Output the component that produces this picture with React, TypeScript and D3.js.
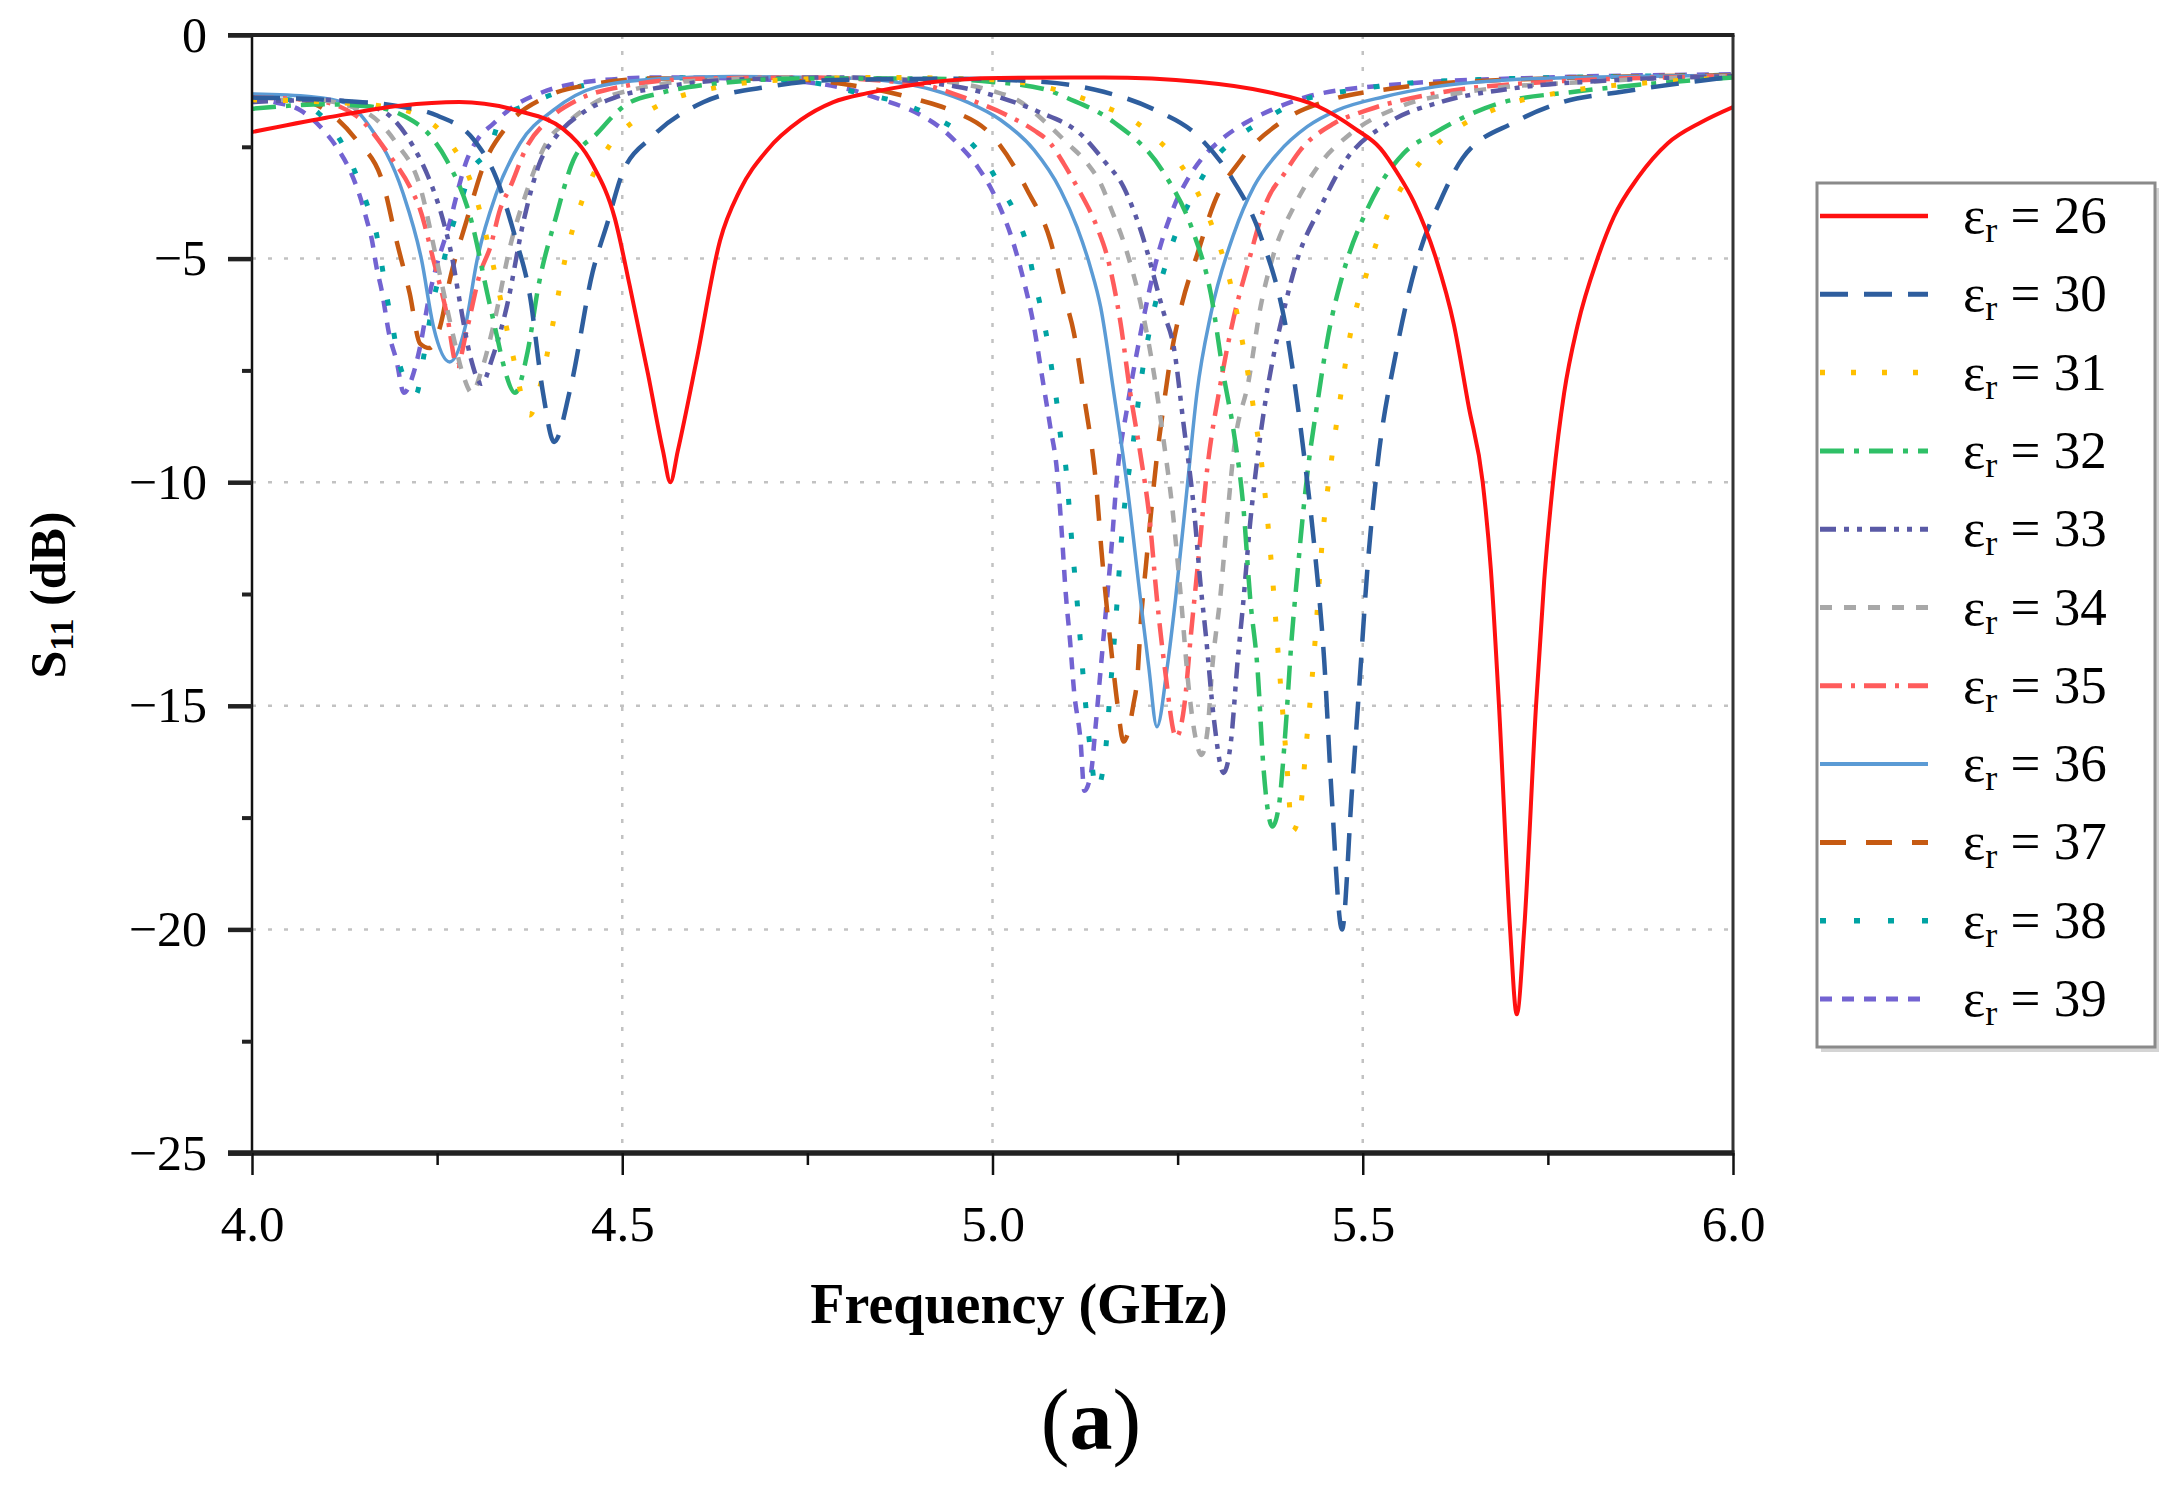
import * as React from "react";
import * as d3 from "d3";

type Pt = [number, number];

// relative permittivity of each curve (legend order)
const permittivities = [26, 30, 31, 32, 33, 34, 35, 36, 37, 38, 39];

// S11 (dB) vs frequency (GHz)
const s11Er26: Pt[] = [
  [4.0, -2.17], [4.1, -1.85], [4.2, -1.58], [4.28, -1.5], [4.36, -1.7], [4.42, -2.1], [4.46, -2.9],
  [4.49, -4.1], [4.51, -5.6], [4.535, -7.6], [4.555, -9.3], [4.565, -10.0], [4.575, -9.3], [4.6, -7.3],
  [4.632, -4.6], [4.659, -3.47], [4.696, -2.57], [4.741, -1.9], [4.785, -1.5], [4.831, -1.3],
  [4.876, -1.16], [4.92, -1.05], [5.01, -0.96], [5.15, -0.95], [5.28, -1.05], [5.37, -1.27],
  [5.44, -1.6], [5.49, -2.1], [5.524, -2.54], [5.547, -3.09], [5.569, -3.73], [5.599, -5.0],
  [5.623, -6.47], [5.643, -8.3], [5.662, -10.0], [5.673, -11.95], [5.684, -15.0], [5.699, -20.0],
  [5.708, -21.9], [5.718, -20.0], [5.734, -15.0], [5.745, -12.2], [5.757, -10.0], [5.772, -8.0],
  [5.79, -6.5], [5.817, -5.0], [5.839, -4.07], [5.872, -3.18], [5.912, -2.42], [5.957, -1.95],
  [6.0, -1.61],
];

const s11Er30: Pt[] = [
  [4.0, -1.4], [4.1, -1.45], [4.2, -1.6], [4.25, -1.8], [4.3, -2.35], [4.33, -3.2], [4.355, -4.5],
  [4.375, -5.8], [4.393, -8.0], [4.408, -9.1], [4.43, -7.9], [4.46, -5.3], [4.48, -4.2], [4.5, -3.1],
  [4.54, -2.28], [4.61, -1.5], [4.7, -1.15], [4.8, -1.0], [4.95, -0.98], [5.07, -1.05], [5.15, -1.27],
  [5.22, -1.68], [5.28, -2.3], [5.325, -3.25], [5.36, -4.4], [5.4, -6.9], [5.42, -9.3], [5.435, -11.5],
  [5.448, -14.0], [5.458, -17.0], [5.472, -20.0], [5.485, -17.0], [5.496, -14.4], [5.506, -12.0],
  [5.52, -9.6], [5.545, -7.1], [5.576, -4.9], [5.605, -3.7], [5.635, -2.75], [5.705, -1.95],
  [5.77, -1.5], [5.85, -1.27], [6.0, -0.93],
];

const s11Er31: Pt[] = [
  [4.0, -1.45], [4.1, -1.5], [4.18, -1.6], [4.225, -1.8], [4.26, -2.25], [4.3, -3.5], [4.325, -5.1],
  [4.35, -7.0], [4.375, -8.5], [4.39, -7.8], [4.407, -6.4], [4.423, -5.0], [4.447, -3.65], [4.466, -2.95],
  [4.486, -2.4], [4.518, -1.9], [4.558, -1.5], [4.62, -1.2], [4.7, -1.02], [4.85, -0.95], [5.0, -1.0],
  [5.08, -1.2], [5.146, -1.57], [5.189, -1.9], [5.22, -2.3], [5.254, -2.9], [5.295, -4.2], [5.322, -5.6],
  [5.339, -7.0], [5.353, -8.4], [5.365, -9.8], [5.377, -11.9], [5.387, -14.1], [5.397, -16.2],
  [5.405, -17.8], [5.415, -17.4], [5.423, -16.0], [5.434, -13.9], [5.447, -11.0], [5.457, -9.6],
  [5.469, -8.2], [5.482, -6.8], [5.504, -5.4], [5.534, -4.0], [5.578, -2.84], [5.61, -2.3],
  [5.68, -1.65], [5.78, -1.25], [5.9, -1.05], [6.0, -0.95],
];

const s11Er32: Pt[] = [
  [4.0, -1.65], [4.1, -1.55], [4.16, -1.6], [4.204, -1.8], [4.243, -2.3], [4.263, -2.8], [4.297, -4.2],
  [4.318, -5.8], [4.331, -6.75], [4.34, -7.4], [4.355, -8.0], [4.372, -7.1], [4.387, -5.6], [4.41, -4.1],
  [4.434, -2.8], [4.466, -2.2], [4.504, -1.57], [4.551, -1.3], [4.62, -1.1], [4.75, -0.97], [4.9, -0.97],
  [5.0, -1.05], [5.074, -1.23], [5.101, -1.41], [5.164, -1.95], [5.232, -3.1], [5.27, -4.36],
  [5.295, -5.8], [5.312, -7.6], [5.326, -8.9], [5.339, -10.6], [5.348, -12.6], [5.358, -14.2],
  [5.366, -16.4], [5.378, -17.7], [5.387, -17.2], [5.395, -15.7], [5.404, -13.5], [5.412, -12.0],
  [5.42, -10.6], [5.426, -9.7], [5.439, -8.2], [5.453, -6.75], [5.474, -5.3], [5.506, -3.9],
  [5.555, -2.65], [5.596, -2.2], [5.684, -1.53], [5.786, -1.27], [5.91, -1.06], [6.0, -0.95],
];

const s11Er33: Pt[] = [
  [4.0, -1.5], [4.1, -1.45], [4.17, -1.65], [4.218, -2.5], [4.238, -3.17], [4.258, -4.14], [4.27, -4.96],
  [4.281, -6.0], [4.295, -7.2], [4.31, -7.8], [4.325, -7.2], [4.344, -6.08], [4.367, -4.14], [4.39, -2.8],
  [4.407, -2.35], [4.45, -1.7], [4.49, -1.4], [4.56, -1.15], [4.65, -1.0], [4.8, -0.95], [4.95, -1.15],
  [5.02, -1.45], [5.06, -1.7], [5.123, -2.28], [5.15, -2.8], [5.177, -3.4], [5.2, -4.36], [5.231, -6.2],
  [5.245, -7.0], [5.258, -8.7], [5.272, -10.6], [5.281, -12.3], [5.288, -13.4], [5.299, -15.3],
  [5.312, -16.5], [5.322, -15.8], [5.331, -14.0], [5.338, -12.8], [5.348, -10.9], [5.356, -9.7],
  [5.378, -7.3], [5.39, -6.4], [5.412, -5.0], [5.443, -3.85], [5.473, -2.9], [5.534, -1.97],
  [5.605, -1.5], [5.7, -1.2], [5.85, -1.0], [6.0, -0.92],
];

const s11Er34: Pt[] = [
  [4.0, -1.45], [4.08, -1.45], [4.15, -1.7], [4.195, -2.42], [4.227, -3.39], [4.249, -5.0], [4.27, -6.6],
  [4.285, -7.6], [4.297, -8.0], [4.31, -7.5], [4.326, -6.5], [4.349, -4.7], [4.371, -3.5], [4.398, -2.4],
  [4.43, -1.9], [4.461, -1.53], [4.52, -1.2], [4.6, -1.02], [4.75, -0.95], [4.9, -1.0], [5.0, -1.25],
  [5.033, -1.45], [5.078, -2.05], [5.101, -2.42], [5.128, -2.87], [5.146, -3.32], [5.159, -3.84],
  [5.182, -4.88], [5.2, -6.0], [5.218, -7.57], [5.231, -9.06], [5.243, -10.6], [5.254, -12.5],
  [5.265, -14.6], [5.274, -15.7], [5.282, -16.1], [5.29, -15.6], [5.297, -14.1], [5.308, -12.5],
  [5.317, -10.8], [5.326, -9.28], [5.346, -7.72], [5.362, -6.08], [5.38, -4.88], [5.407, -3.84],
  [5.439, -2.95], [5.484, -2.2], [5.551, -1.6], [5.65, -1.25], [5.8, -1.05], [6.0, -0.92],
];

const s11Er35: Pt[] = [
  [4.0, -1.4], [4.08, -1.45], [4.14, -1.8], [4.186, -2.7], [4.213, -3.39], [4.227, -3.9], [4.245, -5.03],
  [4.263, -6.23], [4.277, -7.4], [4.29, -6.6], [4.308, -5.33], [4.322, -4.73], [4.335, -3.9],
  [4.349, -3.39], [4.371, -2.5], [4.4, -1.9], [4.44, -1.45], [4.5, -1.15], [4.6, -0.98], [4.75, -0.95],
  [4.9, -1.1], [4.97, -1.45], [5.024, -1.83], [5.056, -2.13], [5.078, -2.42], [5.096, -2.87],
  [5.114, -3.39], [5.141, -4.29], [5.155, -4.96], [5.173, -6.45], [5.186, -8.0], [5.2, -9.4],
  [5.212, -10.8], [5.222, -12.6], [5.233, -14.2], [5.248, -15.7], [5.259, -15.0], [5.268, -13.4],
  [5.277, -11.9], [5.29, -9.7], [5.308, -7.79], [5.326, -6.3], [5.344, -5.18], [5.371, -3.69],
  [5.394, -3.1], [5.416, -2.57], [5.461, -1.98], [5.506, -1.68], [5.6, -1.3], [5.75, -1.05], [6.0, -0.92],
];

const s11Er36: Pt[] = [
  [4.0, -1.32], [4.08, -1.38], [4.128, -1.53], [4.159, -2.05], [4.204, -3.54], [4.229, -5.03],
  [4.245, -6.52], [4.267, -7.31], [4.288, -6.52], [4.304, -5.03], [4.33, -3.54], [4.362, -2.42],
  [4.407, -1.68], [4.466, -1.16], [4.55, -0.98], [4.65, -0.93], [4.8, -0.96], [4.876, -1.07],
  [4.92, -1.23], [4.966, -1.5], [5.011, -1.9], [5.056, -2.57], [5.092, -3.47], [5.114, -4.29],
  [5.132, -5.18], [5.146, -6.08], [5.164, -8.02], [5.182, -10.1], [5.2, -12.64], [5.211, -14.13],
  [5.222, -15.47], [5.236, -14.13], [5.247, -12.64], [5.263, -10.1], [5.276, -8.02], [5.295, -6.23],
  [5.326, -4.44], [5.353, -3.39], [5.385, -2.65], [5.425, -2.05], [5.466, -1.68], [5.529, -1.38],
  [5.597, -1.16], [5.7, -1.0], [5.85, -0.93], [6.0, -0.9],
];

const s11Er37: Pt[] = [
  [4.0, -1.36], [4.05, -1.4], [4.083, -1.53], [4.141, -2.35], [4.177, -3.32], [4.195, -4.59],
  [4.213, -5.78], [4.227, -6.9], [4.24, -7.0], [4.254, -6.52], [4.268, -5.41], [4.29, -4.14],
  [4.312, -2.95], [4.344, -2.05], [4.398, -1.38], [4.46, -1.1], [4.55, -0.97], [4.7, -0.97],
  [4.82, -1.15], [4.9, -1.45], [4.943, -1.68], [5.001, -2.28], [5.047, -3.47], [5.078, -4.59],
  [5.096, -5.78], [5.11, -6.67], [5.123, -8.02], [5.141, -10.25], [5.147, -11.5], [5.155, -12.9],
  [5.162, -14.0], [5.169, -15.0], [5.177, -15.8], [5.19, -15.0], [5.196, -14.3], [5.2, -13.2],
  [5.207, -11.9], [5.214, -10.7], [5.222, -9.43], [5.231, -8.3], [5.24, -7.27], [5.256, -6.0],
  [5.277, -4.88], [5.299, -3.77], [5.335, -2.8], [5.394, -1.9], [5.457, -1.45], [5.542, -1.19],
  [5.7, -1.0], [6.0, -0.9],
];

const s11Er38: Pt[] = [
  [4.0, -1.4], [4.05, -1.45], [4.09, -1.75], [4.119, -2.35], [4.155, -3.77], [4.168, -4.44],
  [4.175, -5.11], [4.183, -5.93], [4.19, -6.52], [4.198, -7.27], [4.21, -7.8], [4.222, -8.02],
  [4.231, -7.27], [4.245, -5.93], [4.258, -5.11], [4.268, -4.44], [4.281, -3.77], [4.295, -3.09],
  [4.322, -2.5], [4.335, -1.9], [4.376, -1.53], [4.43, -1.2], [4.5, -1.02], [4.62, -0.95],
  [4.75, -1.05], [4.82, -1.3], [4.876, -1.52], [4.92, -1.83], [4.957, -2.2], [4.988, -2.75],
  [5.011, -3.4], [5.033, -4.07], [5.047, -4.74], [5.056, -5.44], [5.065, -6.08], [5.074, -6.82],
  [5.081, -7.57], [5.087, -8.24], [5.092, -8.99], [5.099, -9.66], [5.106, -11.1], [5.117, -13.2],
  [5.124, -14.65], [5.133, -16.1], [5.14, -16.9], [5.152, -16.1], [5.159, -14.65], [5.166, -13.2],
  [5.175, -11.1], [5.191, -8.99], [5.202, -7.57], [5.218, -6.15], [5.24, -4.81], [5.274, -3.47],
  [5.295, -2.87], [5.326, -2.35], [5.367, -1.9], [5.407, -1.53], [5.5, -1.2], [5.65, -1.0], [6.0, -0.9],
];

const s11Er39: Pt[] = [
  [4.0, -1.4], [4.03, -1.5], [4.065, -1.68], [4.096, -2.12], [4.114, -2.5], [4.132, -3.02],
  [4.146, -3.62], [4.155, -4.14], [4.162, -4.59], [4.168, -5.18], [4.175, -5.7], [4.186, -6.75],
  [4.195, -7.27], [4.205, -8.0], [4.218, -7.57], [4.227, -6.97], [4.24, -5.78], [4.249, -5.18],
  [4.268, -4.14], [4.277, -3.54], [4.29, -2.8], [4.304, -2.35], [4.326, -1.98], [4.353, -1.6],
  [4.389, -1.3], [4.45, -1.05], [4.55, -0.95], [4.7, -1.0], [4.81, -1.23], [4.84, -1.39],
  [4.903, -1.79], [4.934, -2.13], [4.957, -2.5], [4.98, -2.95], [4.997, -3.4], [5.01, -3.85],
  [5.024, -4.44], [5.042, -5.48], [5.056, -6.52], [5.067, -7.64], [5.078, -8.76], [5.087, -9.73],
  [5.093, -11.0], [5.099, -12.5], [5.105, -13.6], [5.11, -14.65], [5.119, -15.8], [5.124, -16.9],
  [5.133, -16.5], [5.139, -15.5], [5.146, -14.2], [5.153, -12.9], [5.16, -11.6], [5.168, -9.9],
  [5.182, -8.32], [5.2, -6.67], [5.218, -5.26], [5.245, -3.84], [5.263, -3.24], [5.281, -2.8],
  [5.308, -2.35], [5.34, -1.98], [5.376, -1.68], [5.425, -1.38], [5.55, -1.1], [5.75, -0.95], [6.0, -0.88],
];

const seriesValues: Pt[][] = [
  s11Er26, s11Er30, s11Er31, s11Er32, s11Er33, s11Er34, s11Er35, s11Er36, s11Er37, s11Er38, s11Er39,
];

const xTicks = [4.0, 4.5, 5.0, 5.5, 6.0];
const xMinorTicks = [4.25, 4.75, 5.25, 5.75];
const yTicks = [0, -5, -10, -15, -20, -25];
const yMinorTicks = [-2.5, -7.5, -12.5, -17.5, -22.5];
const gridX = [4.5, 5.0, 5.5];
const gridY = [-5, -10, -15, -20];

// line styles, same order as permittivities
const lineColors = [
  "#ff1010", "#2e5e9e", "#ffc000", "#2fc067", "#5a5aa6", "#a8a8a8",
  "#ff5c5c", "#5b9bd5", "#c65a12", "#00a3a3", "#7363d2",
];
const lineDashes = [
  null, "28,16", "5,26", "24,10,5,10", "16,8,5,8,5,8", "12,12",
  "22,9,4,9", null, "26,20", "6,28", "12,10",
];
const lineWidths = [4, 4.5, 5, 4.5, 4.5, 4.5, 4.5, 3.5, 4.5, 5, 4.5];

const FONT = '"Liberation Serif", "Times New Roman", serif';

export default function App() {
  const svgRef = React.useRef<SVGSVGElement>(null);

  React.useEffect(() => {
    const svgElement = svgRef.current;
    if (!svgElement) return;
    const svg = d3.select(svgElement);
    svg.selectAll("*").remove();

    const left = 252, right = 1733, top = 35, bottom = 1153;
    const x = d3.scaleLinear().domain([4, 6]).range([left, right]);
    const y = d3.scaleLinear().domain([-25, 0]).range([bottom, top]);

    svg.append("rect").attr("width", 2184).attr("height", 1486).attr("fill", "#fff");

    // dotted grid
    const grid = svg.append("g").attr("stroke", "#c2c2c2").attr("stroke-width", 2.5)
      .attr("stroke-dasharray", "4,12");
    grid.selectAll(".gx").data(gridX).join("line").attr("class", "gx")
      .attr("x1", d => x(d)).attr("x2", d => x(d)).attr("y1", top).attr("y2", bottom);
    grid.selectAll(".gy").data(gridY).join("line").attr("class", "gy")
      .attr("x1", left).attr("x2", right).attr("y1", d => y(d)).attr("y2", d => y(d));

    // curves
    svg.append("defs").append("clipPath").attr("id", "plot-clip")
      .append("rect").attr("x", left).attr("y", top).attr("width", right - left).attr("height", bottom - top);

    const line = d3.line<Pt>().x(d => x(d[0])).y(d => y(d[1])).curve(d3.curveMonotoneX);
    const order = d3.range(seriesValues.length).reverse();
    svg.append("g").attr("clip-path", "url(#plot-clip)")
      .selectAll("path").data(order).join("path")
      .attr("d", i => line(seriesValues[i]))
      .attr("fill", "none")
      .attr("stroke", i => lineColors[i])
      .attr("stroke-width", i => lineWidths[i])
      .attr("stroke-dasharray", i => lineDashes[i])
      .attr("stroke-linejoin", "round");

    // frame
    const frame = svg.append("g");
    frame.append("line").attr("x1", left).attr("x2", left).attr("y1", top).attr("y2", bottom)
      .attr("stroke", "#111").attr("stroke-width", 2.5);
    frame.append("line").attr("x1", right).attr("x2", right).attr("y1", top).attr("y2", bottom)
      .attr("stroke", "#333").attr("stroke-width", 3);
    frame.append("line").attr("x1", left - 24).attr("x2", right + 1.5).attr("y1", top).attr("y2", top)
      .attr("stroke", "#222").attr("stroke-width", 4);
    frame.append("line").attr("x1", left - 24).attr("x2", right + 1.5).attr("y1", bottom).attr("y2", bottom)
      .attr("stroke", "#222").attr("stroke-width", 5.5);

    // x axis
    const xAxisG = svg.append("g").attr("transform", `translate(0,${bottom})`)
      .call(d3.axisBottom(x).tickValues(xTicks).tickSize(22).tickPadding(30).tickFormat(d3.format(".1f")));
    xAxisG.select(".domain").remove();
    xAxisG.selectAll(".tick line").attr("stroke", "#111").attr("stroke-width", 2.5);
    xAxisG.selectAll("text").attr("font-family", FONT).attr("font-size", 51).attr("fill", "#000");

    const xMinorG = svg.append("g").attr("transform", `translate(0,${bottom})`)
      .call(d3.axisBottom(x).tickValues(xMinorTicks).tickSize(12).tickFormat(() => ""));
    xMinorG.select(".domain").remove();
    xMinorG.selectAll(".tick line").attr("stroke", "#111").attr("stroke-width", 2.5);

    // y axis
    const yAxisG = svg.append("g").attr("transform", `translate(${left},0)`)
      .call(d3.axisLeft(y).tickValues(yTicks).tickSize(24).tickPadding(21).tickFormat(d3.format("d")));
    yAxisG.select(".domain").remove();
    yAxisG.selectAll(".tick line").attr("stroke", "#222").attr("stroke-width", 4.5);
    yAxisG.selectAll("text").attr("font-family", FONT).attr("font-size", 50).attr("fill", "#000");

    const yMinorG = svg.append("g").attr("transform", `translate(${left},0)`)
      .call(d3.axisLeft(y).tickValues(yMinorTicks).tickSize(10).tickFormat(() => ""));
    yMinorG.select(".domain").remove();
    yMinorG.selectAll(".tick line").attr("stroke", "#222").attr("stroke-width", 4);

    // axis titles
    svg.append("text").attr("x", 1019).attr("y", 1323).attr("text-anchor", "middle")
      .attr("font-family", FONT).attr("font-size", 56).attr("font-weight", "bold")
      .text("Frequency (GHz)");

    const yTitle = svg.append("text").attr("transform", "translate(65,595) rotate(-90)")
      .attr("text-anchor", "middle").attr("font-family", FONT).attr("font-size", 50)
      .attr("font-weight", "bold");
    yTitle.append("tspan").text("S");
    yTitle.append("tspan").attr("font-size", 34).attr("dy", 8).text("11");
    yTitle.append("tspan").attr("dy", -8).text(" (dB)");

    // legend
    const lgX = 1817, lgY = 183, lgW = 338, lgH = 864;
    const legend = svg.append("g");
    legend.append("rect").attr("x", lgX + 4).attr("y", lgY + 5).attr("width", lgW).attr("height", lgH)
      .attr("fill", "#d4d4d4");
    legend.append("rect").attr("x", lgX).attr("y", lgY).attr("width", lgW).attr("height", lgH)
      .attr("fill", "#fff").attr("stroke", "#8a8a8a").attr("stroke-width", 3);

    const rowY = d3.scaleLinear().domain([0, permittivities.length - 1]).range([216, 999]);
    const rows = legend.selectAll(".row").data(permittivities).join("g").attr("class", "row")
      .attr("transform", (_d, i) => `translate(0,${rowY(i)})`);
    rows.append("line").attr("x1", 1820).attr("x2", 1928).attr("y1", 0).attr("y2", 0)
      .attr("stroke", (_d, i) => lineColors[i])
      .attr("stroke-width", (_d, i) => lineWidths[i] + 0.5)
      .attr("stroke-dasharray", (_d, i) => lineDashes[i]);
    const label = rows.append("text").attr("x", 1963).attr("y", 17)
      .attr("font-family", FONT).attr("font-size", 53).attr("fill", "#000");
    label.append("tspan").text("ε");
    label.append("tspan").attr("font-size", 36).attr("dy", 9).text("r");
    label.append("tspan").attr("dy", -9).text(d => ` = ${d}`);

    // panel caption
    const cap = svg.append("text").attr("x", 1091).attr("y", 1449).attr("text-anchor", "middle")
      .attr("font-family", FONT).attr("font-size", 86);
    cap.append("tspan").text("(");
    cap.append("tspan").attr("font-weight", "bold").text("a");
    cap.append("tspan").text(")");
  }, []);

  return (
    <svg
      ref={svgRef}
      width={2184}
      height={1486}
      style={{ position: "absolute", left: 0, top: 0, display: "block" }}
    />
  );
}
